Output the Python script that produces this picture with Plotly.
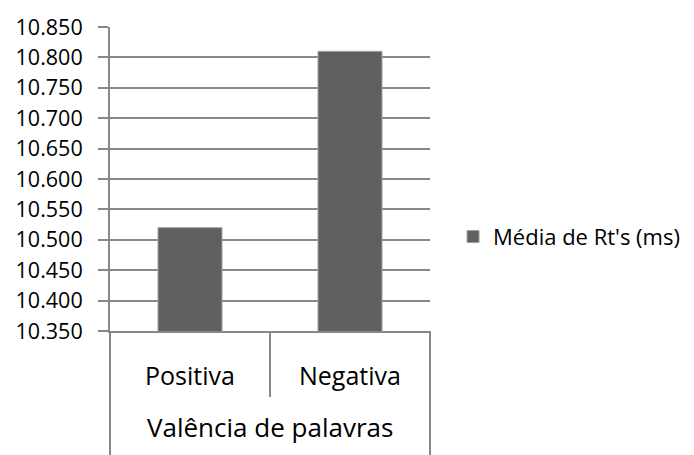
import plotly.graph_objects as go

categories = ["Positiva", "Negativa"]
values = [10.520, 10.810]
series_name = "Média de Rt's (ms)"
group_label = "Valência de palavras"
y_ticks = [10.350 + 0.05 * i for i in range(11)]
y_tick_text = [f"{v:.3f}" for v in y_ticks]

FONT = "Open Sans"
GRID = "#888888"

fig = go.Figure()
fig.add_trace(go.Bar(
    x=categories, y=values, name=series_name,
    marker=dict(color="#606060", line=dict(color="#a0a0a0", width=1)),
    width=0.4, showlegend=True,
))

fig.update_layout(
    width=694, height=455,
    margin=dict(l=110, r=264, t=27, b=124, autoexpand=False),
    paper_bgcolor="white", plot_bgcolor="white",
    font=dict(family=FONT, size=21.5, color="#000000"),
    showlegend=True,
    legend=dict(x=1.072, y=0.31, xanchor="left", yanchor="middle",
                font=dict(family=FONT, size=22, color="#000000"),
                itemwidth=30, bgcolor="rgba(0,0,0,0)"),
    xaxis=dict(showticklabels=False, ticks="", showgrid=False,
               showline=True, linecolor=GRID, linewidth=2,
               range=[-0.5, 1.5]),
    yaxis=dict(range=[10.350, 10.850], tickvals=y_ticks, ticktext=y_tick_text,
               showgrid=True, gridcolor=GRID, gridwidth=2,
               ticks="outside", ticklen=10, tickcolor=GRID, tickwidth=2,
               showline=True, linecolor=GRID, linewidth=2,
               ticklabelstandoff=11, zeroline=False,
               tickfont=dict(family=FONT, size=21.5)),
)

h = 304.0
def py(pix):
    return (331 - pix) / h

# category box lines
fig.add_shape(type="line", xref="paper", yref="paper", x0=0, x1=0, y0=0, y1=py(455),
              line=dict(color=GRID, width=2))
fig.add_shape(type="line", xref="paper", yref="paper", x0=1, x1=1, y0=0, y1=py(455),
              line=dict(color=GRID, width=2))
fig.add_shape(type="line", xref="paper", yref="paper", x0=0.5, x1=0.5, y0=0, y1=py(397),
              line=dict(color=GRID, width=2))

for c in categories:
    fig.add_annotation(x=c, xref="x", yref="paper", y=py(375), text=c, showarrow=False,
                       font=dict(family=FONT, size=25), yanchor="middle")
fig.add_annotation(x=0.5, xref="paper", yref="paper", y=py(427), text=group_label,
                   showarrow=False, font=dict(family=FONT, size=26), yanchor="middle")

fig.write_html("out.html")
